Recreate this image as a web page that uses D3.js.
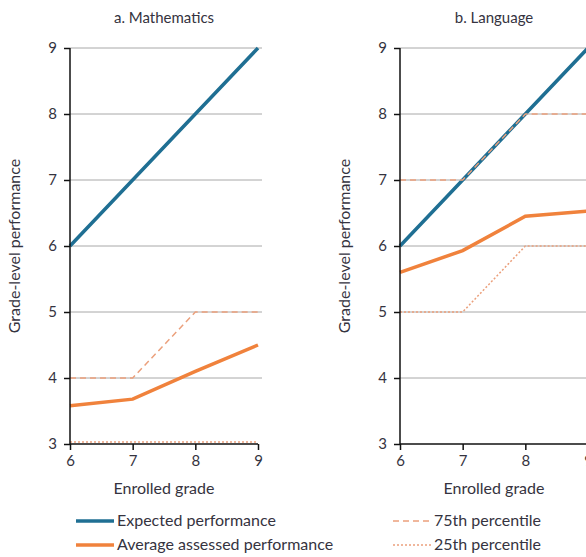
<!DOCTYPE html>
<html>
<head>
<meta charset="utf-8">
<script src="https://cdn.jsdelivr.net/npm/d3@7"></script>
<style>
  body { margin: 0; background: #fff; }
  text { font-family: "Lato", "Noto Sans", sans-serif; fill: #353340; }
</style>
</head>
<body>
<script>
const grades = [6, 7, 8, 9];
const yTicks = [3, 4, 5, 6, 7, 8, 9];

const mathExpected = [6, 7, 8, 9];
const mathAverage = [3.58, 3.68, 4.1, 4.5];
const mathP75 = [4, 4, 5, 5];
const mathP25 = [3.03, 3.03, 3.03, 3.03];

const langExpected = [6, 7, 8, 9];
const langAverage = [5.6, 5.93, 6.45, 6.53];
const langP75 = [7, 7, 8, 8];
const langP25 = [5, 5, 6, 6];

const panels = [
  { title: "a. Mathematics", left: 70, right: 258, expected: mathExpected, average: mathAverage, p75: mathP75, p25: mathP25, labelX: 20 },
  { title: "b. Language", left: 400, right: 588, expected: langExpected, average: langAverage, p75: langP75, p25: langP25, labelX: 350 }
];

const blue = "#1f6f93";
const orange = "#f0823c";
const light = "#eba07c";

const width = 586, height = 557;
const svg = d3.select("body").append("svg")
  .attr("width", width)
  .attr("height", height);

const y = d3.scaleLinear().domain([3, 9]).range([444, 48]);

panels.forEach(p => {
  const x = d3.scaleLinear().domain([6, 9]).range([p.left, p.right]);
  const g = svg.append("g");

  // gridlines
  g.selectAll(".grid")
    .data(yTicks.slice(1))
    .enter().append("line")
    .attr("x1", p.left).attr("x2", p.right + 4)
    .attr("y1", d => y(d)).attr("y2", d => y(d))
    .attr("stroke", "#a8a8a8").attr("stroke-width", 1);

  const line = vals => d3.line()
    .x((d, i) => x(grades[i]))
    .y(d => y(d))(vals);

  // percentiles
  g.append("path").attr("d", line(p.p25))
    .attr("fill", "none").attr("stroke", light)
    .attr("stroke-width", 1.5).attr("stroke-dasharray", "2,2");

  g.append("path").attr("d", line(p.expected))
    .attr("fill", "none").attr("stroke", blue).attr("stroke-width", 3.5);

  g.append("path").attr("d", line(p.p75))
    .attr("fill", "none").attr("stroke", light)
    .attr("stroke-width", 1.5).attr("stroke-dasharray", "6,4");

  g.append("path").attr("d", line(p.average))
    .attr("fill", "none").attr("stroke", orange).attr("stroke-width", 3.5);

  // axes
  const yAxis = d3.axisLeft(y).tickValues(yTicks).tickSize(6).tickPadding(7).tickFormat(d3.format("d"));
  const ya = g.append("g").attr("transform", `translate(${p.left},0)`).call(yAxis);
  ya.select(".domain").attr("d", `M0,${y(9)}V${y(3)}`).attr("stroke", "#111").attr("stroke-width", 1.5);
  ya.selectAll(".tick line").attr("stroke", "#111").attr("stroke-width", 1.5);
  ya.selectAll("text").style("font-size", "15px").attr("fill", "#353340");

  const xAxis = d3.axisBottom(x).tickValues(grades).tickSize(6).tickPadding(5).tickFormat(d3.format("d"));
  const xa = g.append("g").attr("transform", `translate(0,${y(3)})`).call(xAxis);
  xa.select(".domain").attr("d", `M${p.left},0H${p.right}`).attr("stroke", "#111").attr("stroke-width", 1.5);
  xa.selectAll(".tick line").attr("stroke", "#111").attr("stroke-width", 1.5);
  xa.selectAll("text").style("font-size", "15px").attr("fill", "#353340");

  g.append("text")
    .attr("x", p.left + 94)
    .attr("y", 23)
    .attr("text-anchor", "middle")
    .style("font-size", "15px")
    .text(p.title);

  g.append("text")
    .attr("x", p.left + 94)
    .attr("y", 494)
    .attr("text-anchor", "middle")
    .style("font-size", "16px")
    .text("Enrolled grade");

  g.append("text")
    .attr("transform", `translate(${p.labelX},246) rotate(-90)`)
    .attr("text-anchor", "middle")
    .style("font-size", "16px")
    .text("Grade-level performance");
});

// legend
const legend = [
  { label: "Expected performance", color: blue, w: 3.5, dash: null, x: 76, y: 521 },
  { label: "Average assessed performance", color: orange, w: 3.5, dash: null, x: 76, y: 545 },
  { label: "75th percentile", color: light, w: 1.5, dash: "6,4", x: 393, y: 521 },
  { label: "25th percentile", color: light, w: 1.5, dash: "2,2", x: 393, y: 545 }
];

const lg = svg.append("g").selectAll("g").data(legend).enter().append("g");
lg.append("line")
  .attr("x1", d => d.x).attr("x2", d => d.x + 38)
  .attr("y1", d => d.y).attr("y2", d => d.y)
  .attr("stroke", d => d.color).attr("stroke-width", d => d.w)
  .attr("stroke-dasharray", d => d.dash);
lg.append("text")
  .attr("x", d => d.x + 41)
  .attr("y", d => d.y + 5)
  .style("font-size", "16px")
  .text(d => d.label);
</script>
</body>
</html>
